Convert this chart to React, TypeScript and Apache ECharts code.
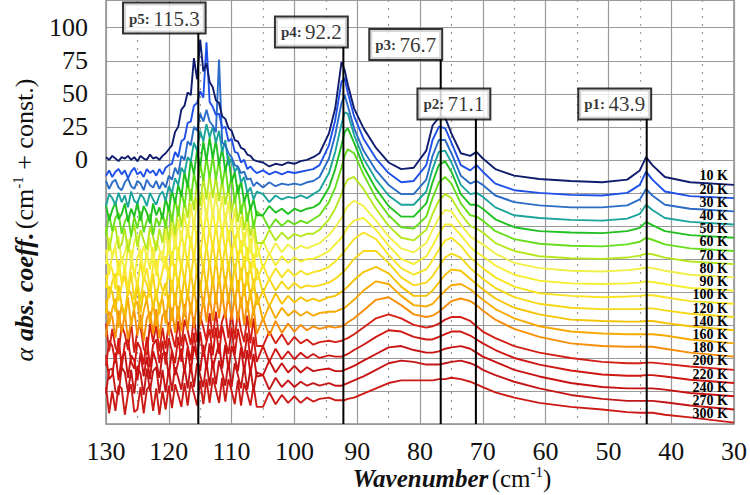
import React, { useEffect, useRef } from 'react';
import * as echarts from 'echarts';

const wavenumbers = [130,129.5,129,128.5,128,127.5,127,126.5,126,125.5,125,124.5,124,123.5,123,122.5,122,121.5,121,120.5,120,119.5,119,118.5,118,117.5,117,116.5,116,115.5,115,114.5,114,113.5,113,112.5,112,111.5,111,110.5,110,109.5,109,108.5,108,107.5,107,106.5,106,
  105,104,103,102,101,100,99,98,97,96,
  94.5,93.5,92.5,92,91.5,90.5,89,87,85,83,81,79,78,77,76,75,73.5,72,71,70,68,65,61,56,51,47,45,44,43,41,37,30];

const temperatures = ['10 K','20 K','30 K','40 K','50 K','60 K','70 K','80 K','90 K','100 K','120 K','140 K','160 K','180 K','200 K','220 K','240 K','270 K','300 K'];
const offsets = [-19,-29,-39,-49,-59,-69,-79,-89,-99,-109,-119,-129,-139,-149,-159,-169,-179,-189,-199];

const spec10K = [21,19,22,20,18,21,20,22,19,21,18,22,20,19,23,20,21,19,22,24,27,30,40,44,57,60,70,68,96,80,110,86,92,78,74,64,62,52,50,43,41,34,33,28,27,23,22,19,18,
  17,14,16,15,17,16,18,19,21,24,
  39,58,93,87,76,58,43,28,17,12,13,26,45,51,51,39,24,22,25,20,12,7,4.5,3,2,4,11,21,15,6,2,0];
const spec20K = [17,21,16,20,22,18,21,15,20,23,18,20,16,22,19,21,17,22,18,23,25,26,35,31,43,45,57,58,70,72,81,76,118,73,69,63,64,53,54,43,45,35,34,27,29,22,24,21,19,
  21,18,20,18,20,19,20,21,22,25,
  40,59,88,91,80,62,45,30,19,12,13,25,44,54,53,42,25,21,25,20,11,6,4,2.5,2,4,10,20,14,5,1.5,0];
const spec30K = [23,17,22,24,18,16,22,25,19,17,23,21,16,24,20,18,23,17,22,18,27,24,33,28,42,39,53,50,64,61,74,68,77,68,65,60,115,52,50,44,41,35,34,29,30,24,25,19,22,
  18,22,19,21,20,21,20,22,23,26,
  40,58,82,88,80,63,46,31,20,13,13,24,42,54,54,44,27,21,23,20,12,7,4.5,3,3,4.5,9,17,12,5,2,0];
const spec40K = [14,23,20,15,24,17,22,13,25,18,16,23,20,14,24,19,15,22,25,18,29,24,35,30,43,39,51,48,62,56,71,63,76,66,74,62,71,55,64,45,50,40,44,32,36,24,28,19,25,
  23,17,22,19,21,20,22,20,23,26,
  39,55,76,85,84,68,50,34,22,15,15,25,42,55,56,47,30,23,24,21,13,7,5,3.5,3,4.5,8,15,11,5,2,0];
const spec50K = [25,13,21,27,14,18,26,12,22,16,27,13,24,19,11,26,17,23,14,30,20,36,26,40,31,50,38,59,48,66,54,73,58,76,60,74,55,68,50,62,42,50,33,43,27,35,21,29,17,
  17,24,19,22,18,22,20,22,23,26,
  38,52,70,80,83,72,54,37,24,16,16,26,42,55,58,50,33,25,25,22,14,8,5,4,3.5,5,7.5,12,9.5,5,2,0];
const spec60K = [12,28,15,25,29,13,22,27,11,26,17,30,14,23,28,12,25,19,29,17,35,22,40,26,46,33,54,38,59,47,66,53,71,55,72,54,69,50,64,44,57,36,50,28,40,22,35,17,30,
  26,17,24,19,23,20,23,21,24,27,
  37,48,63,72,77,74,58,40,27,18,17,26,40,52,56,51,36,27,26,23,15,9,5.5,4,3.5,5,7,10,8.5,5,2,0];
const spec70K = [28,10,24,29,12,15,27,9,22,30,13,26,18,11,28,21,10,27,16,34,18,38,22,44,28,48,35,57,41,62,44,66,49,68,50,67,48,64,45,58,39,52,32,45,26,39,21,33,16,
  16,26,18,24,19,23,21,23,23,26,
  34,42,53,60,64,66,57,42,29,20,18,26,38,48,53,50,38,29,27,24,16,10,6,4.5,4,5,6.5,8,7.5,5,2,0];
const spec80K = [10,30,14,25,31,11,19,29,9,27,32,12,24,15,30,10,28,21,11,36,17,40,21,44,27,49,30,56,37,60,41,64,43,65,45,64,44,62,40,58,35,52,30,46,23,41,18,36,15,
  28,17,26,19,25,21,24,22,24,26,
  32,38,45,50,54,58,54,43,31,22,19,26,36,45,51,50,40,31,28,25,18,11,7,5,4.5,5.5,6.5,7.5,7,5,2,0];
const spec90K = [31,12,28,33,11,26,14,32,30,10,25,31,13,29,16,33,11,27,30,16,39,19,42,23,45,29,50,32,54,37,60,40,62,42,61,43,61,41,59,37,54,33,49,28,44,22,40,17,35,
  17,28,19,26,21,25,22,24,24,26,
  30,35,40,44,48,53,55,46,34,24,20,26,34,43,50,50,42,33,29,26,19,12,7.5,5.5,5,5.5,6,7,6.5,5,2,0];
const spec100K = [12,30,26,11,33,15,28,10,31,24,13,32,17,27,11,29,33,14,25,36,19,40,21,43,25,46,28,51,33,55,36,57,39,59,40,60,41,58,39,56,36,52,32,48,27,43,23,38,18,
  29,18,27,20,26,21,25,22,24,25,
  28,32,37,40,43,49,54,49,37,27,22,26,33,41,48,50,44,35,31,27,20,13,8,6,5,5.5,6,6.5,6.5,5,2,0];
const spec120K = [32,14,27,33,12,24,31,16,34,13,28,11,30,25,15,33,12,29,20,16,38,20,40,22,42,26,46,29,49,32,53,35,55,37,57,38,56,37,55,35,53,32,50,28,46,24,42,20,37,
  18,29,20,27,21,26,22,24,23,24,
  26,29,33,35,38,44,50,50,41,30,24,26,31,38,45,48,45,37,33,29,22,15,10,7,6,6,6,6.5,6.5,5,2.5,0];
const spec140K = [13,33,29,14,34,19,12,32,27,15,35,13,30,22,34,16,31,12,28,36,17,38,19,40,21,42,23,45,27,48,29,51,31,53,33,54,34,53,33,52,31,50,29,47,26,44,23,39,19,
  30,18,28,20,26,21,25,22,24,22,
  25,26,29,31,33,38,44,48,43,33,26,26,30,36,42,46,45,39,35,31,24,17,12,8,7,6.5,6.5,7,7,5.5,3,0];
const spec160K = [33,14,26,34,12,30,17,35,13,28,32,11,25,34,15,31,13,29,34,15,37,17,38,18,40,20,41,22,44,25,46,27,48,29,50,30,51,31,51,30,50,29,48,27,45,24,41,21,38,
  17,29,19,27,21,25,21,24,21,23,
  24,24,26,27,29,33,40,47,45,36,29,28,30,35,40,44,45,41,37,33,26,19,13,9,7.5,7,7,7,7,6,3,0];
const spec180K = [15,34,30,14,35,18,33,13,27,35,16,32,12,29,34,17,36,14,31,35,16,37,18,38,19,40,20,41,22,43,24,45,26,47,27,48,29,49,29,48,28,47,27,45,24,42,22,38,17,
  29,16,27,18,25,19,24,20,23,21,
  23,22,23,24,26,29,35,43,45,39,32,30,31,34,38,42,44,42,39,35,28,21,15,10,8,7.5,7.5,7.5,7.5,6,3,0];
const spec200K = [35,14,31,17,12,34,27,15,36,13,30,33,16,11,35,21,34,14,32,16,36,27,17,37,18,38,30,19,40,21,41,32,22,43,24,44,24,37,44,24,45,23,44,30,21,41,20,39,18,
  18,29,20,27,19,25,20,23,19,21,
  22,21,22,23,24,27,32,39,42,39,34,32,33,35,38,40,40,37,33,29,24,18,13,9,6,5,5,5.5,5.5,4.5,2.5,0];
const spec220K = [13,32,28,15,34,12,30,33,16,11,31,26,14,35,12,29,33,15,32,14,34,24,15,35,16,37,28,17,38,19,39,20,31,41,21,42,22,43,32,22,42,21,41,29,19,38,18,35,16,
  28,16,26,18,24,18,23,19,22,19,
  21,20,20,21,22,25,29,35,40,39,35,33,33,35,37,39,39,36,33,30,25,19,14,9.5,6.5,5.5,5.5,6,6,5,2.5,0];
const spec240K = [31,13,16,33,12,29,34,14,31,27,12,33,15,30,13,34,26,14,32,33,15,35,16,26,36,17,37,18,38,29,19,39,20,40,21,31,40,21,39,20,38,30,19,37,18,35,17,32,15,
  16,27,18,25,18,23,18,22,19,20,
  21,19,19,20,21,23,27,32,37,38,35,33,33,34,36,37,38,36,33,30,26,20,15,10,7,6,6,6,6,5,2.5,0];
const spec270K = [12,30,31,14,11,32,28,13,30,12,33,27,11,31,14,29,32,12,30,13,31,14,32,24,15,33,16,34,17,35,26,17,36,18,37,19,37,28,18,36,17,35,26,16,33,15,31,14,28,
  26,15,24,17,22,17,21,18,20,18,
  20,18,18,19,20,22,25,30,35,37,36,34,34,34,35,36,37,35,33,30,26,21,16,11,8,6.5,6.5,6.5,6.5,5.5,3,0];
const spec300K = [27,7,24,9,28,26,6,22,29,8,10,27,7,25,28,9,26,6,24,10,28,11,29,21,12,30,13,31,22,13,32,14,33,15,34,25,15,34,16,33,24,14,32,13,30,22,13,28,12,
  12,23,14,21,15,20,15,19,16,18,
  19,17,17,17,18,19,22,26,30,32,32,32,32,33,33,34,33,31,29,27,23,19,15,12,10,8,7.5,7.5,7.5,6,4,0];

const spectra = [spec10K,spec20K,spec30K,spec40K,spec50K,spec60K,spec70K,spec80K,spec90K,spec100K,spec120K,spec140K,spec160K,spec180K,spec200K,spec220K,spec240K,spec270K,spec300K];

const colors = ['#101d6e','#1f50e8','#2b6cc6','#1ba39c','#20c020','#66de1c','#b5e81f','#f2f048','#f6ee30','#f8e424','#f6d818','#f6c404','#f7aa04','#f78e08','#d31f16','#cf1713','#c81212','#c31616','#cc1a16'];

const peakNames = ['p5','p4','p3','p2','p1'];
const peakPositions = [115.3, 92.2, 76.7, 71.1, 43.9];
const peakBoxBottoms = [96, 85.5, 76, 31, 31];
const boxShift = [-34, -32, -35, -22, -32];

const yTicksShown = [0, 25, 50, 75, 100];

export default function App() {
  const ref = useRef<HTMLDivElement>(null);
  useEffect(() => {
    const chart = echarts.init(ref.current!, null, { renderer: 'svg' });
    const serif = 'Liberation Serif';

    const spectraSeries: any[] = spectra.map((vals, i) => ({
      type: 'line',
      name: temperatures[i],
      data: vals.map((v, k) => [wavenumbers[k], v + offsets[i]]),
      showSymbol: false,
      symbol: 'none',
      lineStyle: { color: colors[i], width: 1.9 },
      itemStyle: { color: colors[i] },
      z: 2,
      endLabel: {
        show: true,
        formatter: () => temperatures[i],
        color: '#000',
        fontFamily: serif,
        fontWeight: 'bold',
        fontSize: 14,
        lineHeight: 12,
        distance: 6,
        offset: [0, -9],
      },
    })).reverse();

    const peakLineSeries: any[] = peakPositions.map((p, i) => ({
      type: 'line',
      data: [[p, peakBoxBottoms[i]], [p, -200]],
      showSymbol: false,
      symbol: 'none',
      lineStyle: { color: '#000', width: 2 },
      z: 5,
    }));

    const boxSeries: any = {
      type: 'scatter',
      z: 6,
      symbolSize: 1,
      itemStyle: { color: 'rgba(0,0,0,0)' },
      data: peakPositions.map((p, i) => ({
        value: [p, peakBoxBottoms[i]],
        label: {
          show: true,
          position: 'top',
          distance: 0,
          offset: [boxShift[i], 0],
          formatter: `{b|${peakNames[i]}:} {n|${peakPositions[i].toFixed(1)}}`,
          backgroundColor: '#fff',
          borderColor: '#000',
          borderWidth: 2,
          padding: [4, 5, 3, 5],
          rich: {
            b: { fontFamily: serif, fontWeight: 'bold', fontSize: 15, color: '#000', lineHeight: 22 },
            n: { fontFamily: serif, fontSize: 21, color: '#000', lineHeight: 22 },
          },
        },
      })),
    };

    chart.setOption({
      animation: false,
      backgroundColor: '#fff',
      grid: {
        left: 106, right: 15, top: 0, bottom: 71,
        show: true, borderColor: '#8c8c8c', borderWidth: 1.5, backgroundColor: 'transparent',
      },
      xAxis: {
        type: 'value', min: 30, max: 130, interval: 10, inverse: true,
        axisLine: { show: false },
        axisTick: { show: false },
        axisLabel: { fontFamily: serif, fontSize: 26, color: '#111', margin: 14 },
        splitLine: { show: true, lineStyle: { color: '#9a9a9a', width: 1.2 } },
        minorTick: { show: false, splitNumber: 2 },
        minorSplitLine: { show: true, lineStyle: { color: '#9a9a9a', width: 1.2, type: [2, 6] } },
      },
      yAxis: {
        type: 'value', min: -200, max: 121, interval: 25,
        axisLine: { show: false },
        axisTick: { show: false },
        axisLabel: {
          fontFamily: serif, fontSize: 26, color: '#111', margin: 18,
          formatter: (v: number) => (yTicksShown.indexOf(v) >= 0 ? String(v) : ''),
        },
        splitLine: { show: true, lineStyle: { color: '#9a9a9a', width: 1.2 } },
      },
      graphic: [
        {
          type: 'text',
          x: 452, y: 478,
          style: {
            text: '{bi|Wavenumber} {r|(cm}{sup|-1}{r|)}',
            align: 'center', verticalAlign: 'middle',
            rich: {
              bi: { fontFamily: serif, fontWeight: 'bold', fontStyle: 'italic', fontSize: 25, fill: '#111' },
              r: { fontFamily: serif, fontSize: 25, fill: '#111' },
              sup: { fontFamily: serif, fontSize: 15, fill: '#111', verticalAlign: 'top', padding: [0, 0, 12, 0] },
            },
          },
        },
        {
          type: 'text',
          x: 24, y: 220,
          rotation: Math.PI / 2,
          style: {
            text: '{a|α}  {bi|abs. coeff.} {r|(cm}{sup|-1}{r| + const.)}',
            align: 'center', verticalAlign: 'middle',
            rich: {
              a: { fontFamily: serif, fontStyle: 'italic', fontSize: 26, fill: '#111' },
              bi: { fontFamily: serif, fontWeight: 'bold', fontStyle: 'italic', fontSize: 26, fill: '#111' },
              r: { fontFamily: serif, fontSize: 26, fill: '#111' },
              sup: { fontFamily: serif, fontSize: 15, fill: '#111', verticalAlign: 'top', padding: [0, 0, 12, 0] },
            },
          },
        },
      ],
      series: [...spectraSeries, ...peakLineSeries, boxSeries],
    });
    return () => chart.dispose();
  }, []);
  return (
    <div
      ref={ref}
      style={{ position: 'absolute', left: 0, top: 0, width: 750, height: 495, background: '#fff' }}
    />
  );
}
